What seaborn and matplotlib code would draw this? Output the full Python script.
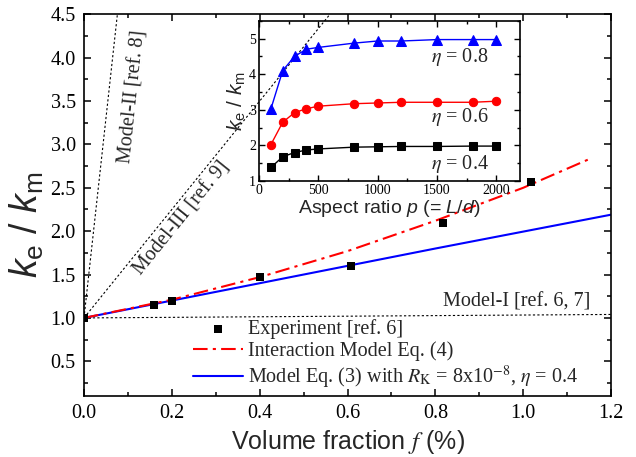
import numpy as np
import pandas as pd
import matplotlib
matplotlib.use("Agg")
import matplotlib.pyplot as plt
import seaborn as sns
from matplotlib.ticker import MultipleLocator

# ---------------- data ----------------
exp_f = [0.0, 0.16, 0.20, 0.40, 0.608, 0.818, 1.017]
exp_k = [1.0, 1.147, 1.20, 1.466, 1.604, 2.09, 2.57]

inter_f = [0.0, 0.2, 0.4, 0.6, 0.8, 1.0, 1.15]
inter_k = [1.0, 1.21, 1.47, 1.77, 2.12, 2.50, 2.83]

eq3_f = [0.0, 0.4, 0.8, 1.2]
eq3_k = [1.0, 1.40, 1.80, 2.19]

modelI_f = [0.0, 1.2]
modelI_k = [1.0, 1.04]
modelII_f = [0.0, 0.076]
modelII_k = [1.0, 4.5]
modelIII_f = [0.0, 0.56]
modelIII_k = [1.0, 4.5]

aspect = [100, 200, 300, 400, 500, 800, 1000, 1200, 1500, 1800, 2000]
eta08 = [3.02, 4.10, 4.50, 4.70, 4.75, 4.87, 4.93, 4.93, 4.97, 4.97, 4.97]
eta06 = [2.02, 2.65, 2.92, 3.03, 3.10, 3.17, 3.19, 3.21, 3.21, 3.21, 3.24]
eta04 = [1.38, 1.68, 1.80, 1.87, 1.90, 1.95, 1.96, 1.97, 1.97, 1.98, 1.98]

# ---------------- style ----------------
sns.set_theme(style="ticks")
plt.rcParams["font.family"] = ["Liberation Serif", "DejaVu Serif"]
plt.rcParams["mathtext.fontset"] = "stix"
plt.rcParams["mathtext.rm"] = "Liberation Sans"
plt.rcParams["mathtext.it"] = "Liberation Sans:italic"
plt.rcParams["mathtext.bf"] = "Liberation Sans:bold"
for k in ("xtick", "ytick"):
    plt.rcParams[f"{k}.direction"] = "in"
    plt.rcParams[f"{k}.color"] = "black"
plt.rcParams["axes.edgecolor"] = "black"
plt.rcParams["axes.linewidth"] = 1.2

fig = plt.figure(figsize=(6.36, 4.57), dpi=100)
ax = fig.add_axes([84 / 636, 1 - 396 / 457, 527 / 636, (396 - 14.3) / 457])

# dotted reference models
dot = (0, (2, 2))
sns.lineplot(x=modelI_f, y=modelI_k, ax=ax, color="black", lw=0.8, linestyle=dot)
sns.lineplot(x=modelII_f, y=modelII_k, ax=ax, color="black", lw=0.8, linestyle=dot)
sns.lineplot(x=modelIII_f, y=modelIII_k, ax=ax, color="black", lw=0.8, linestyle=dot)

sns.lineplot(x=eq3_f, y=eq3_k, ax=ax, color="#0000ff", lw=1.5,
             label="Model Eq. (3) with $R_\\mathrm{K}$ = 8x10$^{-8}$, $\\eta$ = 0.4")
sns.lineplot(x=inter_f, y=inter_k, ax=ax, color="#ff0000", lw=1.5,
             linestyle=(0, (7, 2.5, 1.5, 2.5)), label="Interaction Model Eq. (4)")
sns.scatterplot(x=exp_f, y=exp_k, ax=ax, color="black", marker="s", s=40,
                edgecolor="black", linewidth=0, zorder=5, label="Experiment [ref. 6]")

ax.set_xlim(0, 1.2)
ax.set_ylim(0.1, 4.5)
ax.xaxis.set_major_locator(MultipleLocator(0.2))
ax.xaxis.set_minor_locator(MultipleLocator(0.1))
ax.yaxis.set_major_locator(MultipleLocator(0.5))
ax.yaxis.set_minor_locator(MultipleLocator(0.25))
ax.tick_params(which="both", top=True, right=True, direction="in", width=1.1)
ax.tick_params(which="major", length=5, labelsize=14.5, pad=6)
ax.tick_params(which="minor", length=3)
ax.xaxis.set_major_formatter(matplotlib.ticker.FormatStrFormatter("%.1f"))
ax.yaxis.set_major_formatter(matplotlib.ticker.FormatStrFormatter("%.1f"))

ax.set_xlabel("Volume fraction $f$ (%)", family="Liberation Sans", fontsize=18,
              labelpad=3)
ax.set_ylabel("$k_\\mathrm{e}$ / $k_\\mathrm{m}$", family="Liberation Sans",
              fontsize=27, math_fontfamily="custom")
ax.yaxis.set_label_coords(-0.073, 0.45)

# annotations
ax.text(0.112, 3.55, "Model-II [ref. 8]", rotation=84, rotation_mode="anchor",
        ha="center", va="center", fontsize=14.5)
ax.text(0.222, 2.15, "Model-III [ref. 9]", rotation=51, rotation_mode="anchor",
        ha="center", va="center", fontsize=14.5)
ax.text(1.152, 1.13, "Model-I [ref. 6, 7]", ha="right", va="baseline", fontsize=14.5)

h, l = ax.get_legend_handles_labels()
order = ["Experiment [ref. 6]", "Interaction Model Eq. (4)",
         "Model Eq. (3) with $R_\\mathrm{K}$ = 8x10$^{-8}$, $\\eta$ = 0.4"]
hd = dict(zip(l, h))
ax.legend([hd[o] for o in order], order, loc="upper left",
          bbox_to_anchor=(193 / 636, 1 - 319 / 457), bbox_transform=fig.transFigure,
          frameon=False, fontsize=14.5, borderpad=0, borderaxespad=0,
          handlelength=2.5, handletextpad=0.25, labelspacing=0.12, scatterpoints=1)

# ---------------- inset ----------------
ax2 = fig.add_axes([259 / 636, 1 - 181 / 457, 261 / 636, (181 - 20.7) / 457])
ax2.set_facecolor("none")
sns.lineplot(x=aspect, y=eta08, ax=ax2, color="#0000ff", marker="^", markersize=7.5,
             markeredgecolor="#0000ff", lw=1)
sns.lineplot(x=aspect, y=eta06, ax=ax2, color="#ff0000", marker="o", markersize=6,
             markeredgecolor="#ff0000", lw=1)
sns.lineplot(x=aspect, y=eta04, ax=ax2, color="black", marker="s", markersize=5.5,
             markeredgecolor="black", lw=1)
ax2.set_xlim(0, 2200)
ax2.set_ylim(1, 5.5)
ax2.xaxis.set_major_locator(MultipleLocator(500))
ax2.xaxis.set_minor_locator(MultipleLocator(250))
ax2.yaxis.set_major_locator(MultipleLocator(1))
ax2.yaxis.set_minor_locator(MultipleLocator(0.5))
ax2.tick_params(which="both", top=True, right=True, direction="in", width=1)
ax2.tick_params(which="major", length=4, labelsize=10, pad=2)
ax2.tick_params(which="minor", length=2)
ax2.set_xlabel("Aspect ratio $p$ (= $L/d$)", family="Liberation Sans", fontsize=14,
               labelpad=1, math_fontfamily="custom")
ax2.set_ylabel("$k_\\mathrm{e}$ / $k_\\mathrm{m}$", family="Liberation Sans",
               fontsize=15, labelpad=1, math_fontfamily="custom")
for y, s in [(4.47, "0.8"), (2.80, "0.6"), (1.49, "0.4")]:
    ax2.text(1935, y, "$\\eta$ = " + s, ha="right", va="center", fontsize=14.5)

fig.savefig("out.png", dpi=100)
